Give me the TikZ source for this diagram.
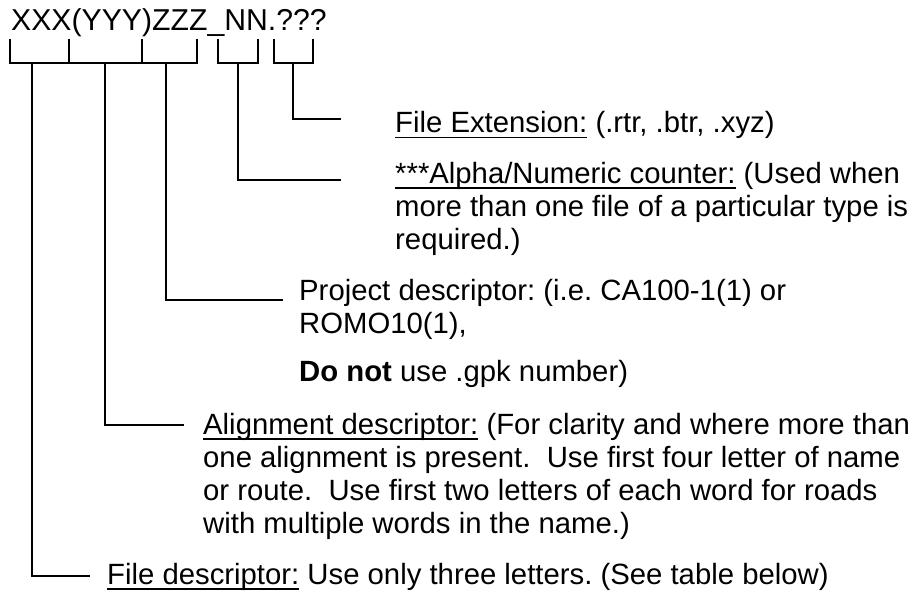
\documentclass[tikz,border=0pt]{standalone}
\usepackage{fontspec}
\setmainfont{Liberation Sans}
\newsavebox{\ulbox}
\newcommand{\ulin}[1]{\sbox{\ulbox}{#1}\rlap{\rule[-5.5pt]{\wd\ulbox}{1.8pt}}\usebox{\ulbox}}
\newcommand{\bodyfont}{\fontsize{29.3pt}{33pt}\selectfont\frenchspacing}
\newcommand{\titlefont}{\fontsize{30.2pt}{34pt}\selectfont}
\begin{document}
\begin{tikzpicture}[x=1pt,y=-1pt,
  txt/.style={anchor=base west, inner sep=0pt, font=\bodyfont},
  conn/.style={line width=1.6pt, line join=miter, line cap=rect}]
\useasboundingbox (0,0) rectangle (913,591);

% title
\node[txt, font=\titlefont] (title) at (11,31) {XXX(YYY)ZZZ\_NN.???};

% bracket coordinates
\coordinate (t1) at (10,40);
\coordinate (t2) at (69,40);
\coordinate (t3) at (142,40);
\coordinate (t4) at (197,40);
\coordinate (n1) at (218,40);
\coordinate (n2) at (258,40);
\coordinate (q1) at (274,40);
\coordinate (q2) at (313,40);
\coordinate (by) at (0,63);

% drop points
\coordinate (dX) at (32,63);
\coordinate (dY) at (105,63);
\coordinate (dZ) at (166,63);
\coordinate (dN) at (238,63);
\coordinate (dQ) at (293,63);

% end points
\coordinate (eX) at (89,576);
\coordinate (eY) at (183,425);
\coordinate (eZ) at (282,300);
\coordinate (eN) at (340,180);
\coordinate (eQ) at (340,119);

% brackets
\draw[conn] (t1) -- (t1 |- by) -- (t4 |- by) -- (t4);
\draw[conn] (t2) -- (t2 |- by);
\draw[conn] (t3) -- (t3 |- by);
\draw[conn] (n1) -- (n1 |- by) -- (n2 |- by) -- (n2);
\draw[conn] (q1) -- (q1 |- by) -- (q2 |- by) -- (q2);

% connectors
\draw[conn] (dX) |- (eX);
\draw[conn] (dY) |- (eY);
\draw[conn] (dZ) |- (eZ);
\draw[conn] (dN) |- (eN);
\draw[conn] (dQ) |- (eQ);

% texts
\node[txt] (ext) at (395,133) {\ulin{File Extension:} (.rtr, .btr, .xyz)};

\node[txt] (cnt1) at (395,183) {\ulin{***Alpha/Numeric counter:} (Used when};
\node[txt] (cnt2) at (395,216) {more than one file of a particular type is};
\node[txt] (cnt3) at (395,249) {required.)};

\node[txt] (prj1) at (299,300) {Project descriptor: (i.e. CA100-1(1) or};
\node[txt] (prj2) at (299,333) {ROMO10(1),};
\node[txt] (prj3) at (299,381) {\textbf{Do not} use .gpk number)};

\node[txt] (aln1) at (203,434) {\ulin{Alignment descriptor:} (For clarity and where more than};
\node[txt] (aln2) at (203,467) {one alignment is present.\ \ Use first four letter of name};
\node[txt] (aln3) at (203,500) {or route.\ \ Use first two letters of each word for roads};
\node[txt] (aln4) at (203,533) {with multiple words in the name.)};

\node[txt] (fil) at (107,584) {\ulin{File descriptor:} Use only three letters. (See table below)};
\end{tikzpicture}
\end{document}
